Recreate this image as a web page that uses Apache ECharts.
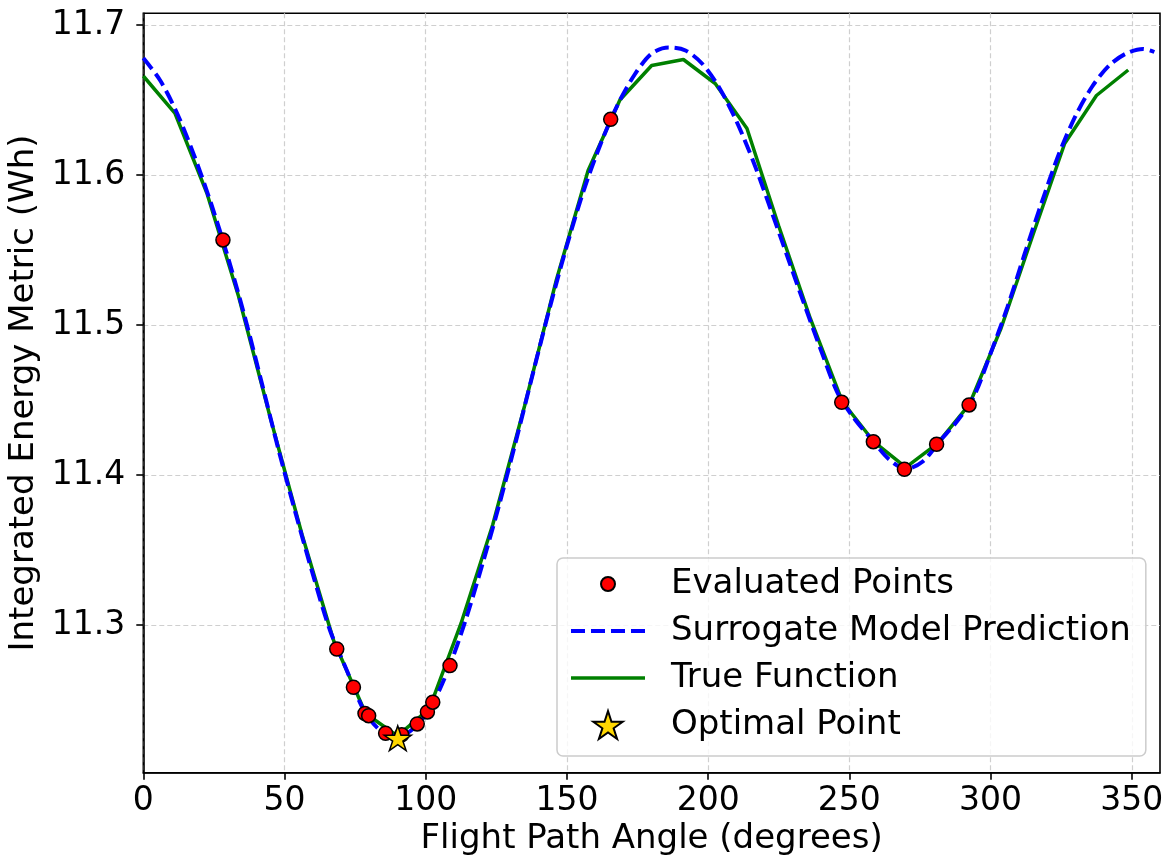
<!DOCTYPE html>
<html>
<head>
<meta charset="utf-8">
<script src="https://cdn.jsdelivr.net/npm/echarts@6/dist/echarts.min.js"></script>
<style>html,body{margin:0;padding:0;background:#fff;}#chart{width:1171px;height:867px;}</style>
</head>
<body>
<div id="chart"></div>
<script>
// ---- data ----
const trueX = [0, 11.25, 22.5, 33.75, 45, 56.25, 67.5, 78.75, 90, 101.25, 112.5, 123.75, 135, 146.25, 157.5, 168.75,
  180, 191.25, 202.5, 213.75, 225, 236.25, 247.5, 258.75, 270, 281.25, 292.5, 303.75, 315, 326.25, 337.5, 348.75];
const trueY = [11.666, 11.641, 11.588, 11.519, 11.438, 11.360, 11.289, 11.241, 11.226, 11.244, 11.301, 11.367, 11.446, 11.530, 11.603, 11.650,
  11.673, 11.677, 11.661, 11.631, 11.566, 11.504, 11.449, 11.422, 11.405, 11.421, 11.447, 11.498, 11.560, 11.621, 11.653, 11.670];

const surX = [0, 6, 12, 18, 24, 30, 36, 42, 48, 54, 60, 66, 72, 78, 84, 90, 96, 102, 108, 114, 120, 126, 132, 138, 144, 150,
  156, 162, 168, 174, 180, 186, 192, 198, 204, 210, 216, 222, 228, 234, 240, 246, 252, 258, 264, 270, 276, 282, 288, 294,
  300, 306, 312, 318, 324, 330, 336, 342, 348, 354, 358];
const surY = [11.678, 11.663, 11.641, 11.613, 11.581, 11.545, 11.505, 11.461, 11.416, 11.374, 11.334, 11.297, 11.270, 11.2435, 11.2295,
  11.2255, 11.2315, 11.246, 11.2705, 11.3025, 11.340, 11.380, 11.423, 11.468, 11.512, 11.553, 11.590, 11.621, 11.647, 11.667,
  11.681, 11.685, 11.683, 11.674, 11.658, 11.636, 11.609, 11.578, 11.546, 11.514, 11.483, 11.454, 11.437, 11.4235, 11.4105, 11.404,
  11.409, 11.4225, 11.4355, 11.452, 11.481, 11.512, 11.547, 11.581, 11.613, 11.639, 11.659, 11.673, 11.681, 11.684, 11.682];

const evalX = [28.2, 68.5, 74.4, 78.5, 79.8, 85.8, 91.5, 97.0, 100.6, 102.5, 108.6, 165.5, 247.3, 258.5, 269.5, 280.9, 292.4];
const evalY = [11.5567, 11.284, 11.2585, 11.241, 11.2395, 11.2278, 11.2268, 11.234, 11.242, 11.2485, 11.2729, 11.6371, 11.4485, 11.4222, 11.4038, 11.4205, 11.4467];

const optX = [90.1];
const optY = [11.2245];

const xTicks = [0, 50, 100, 150, 200, 250, 300, 350];
const yTicks = [11.3, 11.4, 11.5, 11.6, 11.7];

const names = ['Evaluated Points', 'Surrogate Model Prediction', 'True Function', 'Optimal Point'];

// ---- styles ----
function starPath() {
  const pts = [];
  for (let i = 0; i < 10; i++) {
    const r = i % 2 === 0 ? 100 : 38.2;
    const a = Math.PI / 2 + i * Math.PI / 5;
    pts.push((r * Math.cos(a)).toFixed(2) + ' ' + (-r * Math.sin(a)).toFixed(2));
  }
  return 'path://M' + pts.join(' L') + ' Z';
}
const STAR = starPath();
const LEG_CIRCLE = 'path://M0 0 M28 28 M21 14 A7 7 0 1 1 7 14 A7 7 0 1 1 21 14 Z';
const FONT = 'DejaVu Sans';
const BLUE_DASH = [14, 6];

const zip = (a, b) => a.map((v, i) => [v, b[i]]);

const chart = echarts.init(document.getElementById('chart'), null, {renderer: 'canvas'});
chart.setOption({
  animation: false,
  backgroundColor: '#ffffff',
  textStyle: {fontFamily: FONT},
  grid: {left: 143.3, right: 11, top: 13.3, bottom: 94.3, show: true, borderColor: '#000', borderWidth: 1.6,
         backgroundColor: 'transparent', containLabel: false, outerBoundsMode: 'none'},
  xAxis: {
    type: 'value', min: 0, max: 360, interval: 50,
    name: 'Flight Path Angle (degrees)', nameLocation: 'middle', nameGap: 47,
    nameTextStyle: {fontSize: 34, color: '#000', fontFamily: FONT},
    axisLine: {show: true, onZero: false, lineStyle: {color: '#000', width: 1.6}},
    axisTick: {show: true, inside: false, length: 7, lineStyle: {color: '#000', width: 1.6}, customValues: xTicks},
    axisLabel: {fontSize: 33, color: '#000', fontFamily: FONT, margin: 12, customValues: xTicks,
                formatter: v => xTicks.indexOf(v) >= 0 ? String(v) : ''},
    splitLine: {show: true, lineStyle: {color: '#cfcfcf', width: 1.2, type: [5, 3]}}
  },
  yAxis: {
    type: 'value', min: 11.2015, max: 11.7078, splitNumber: 5,
    name: 'Integrated Energy Metric (Wh)', nameLocation: 'middle', nameGap: 102, nameRotate: 90,
    nameTextStyle: {fontSize: 34, color: '#000', fontFamily: FONT},
    axisLine: {show: true, onZero: false, lineStyle: {color: '#000', width: 1.6}},
    axisTick: {show: true, inside: false, length: 7, lineStyle: {color: '#000', width: 1.6}, customValues: yTicks},
    axisLabel: {fontSize: 33, color: '#000', fontFamily: FONT, margin: 18, customValues: yTicks,
                formatter: v => yTicks.some(t => Math.abs(t - v) < 1e-6) ? v.toFixed(1) : ''},
    splitLine: {show: true, lineStyle: {color: '#cfcfcf', width: 1.2, type: [5, 3]}}
  },
  legend: {
    orient: 'vertical', left: 557, top: 558,
    padding: [8, 15, 13, 12],
    itemWidth: 74, itemHeight: 28, itemGap: 11,
    backgroundColor: 'rgba(255,255,255,0.8)', borderColor: '#cccccc', borderWidth: 1.5, borderRadius: 6,
    textStyle: {fontSize: 34, color: '#000', fontFamily: FONT, lineHeight: 36, padding: [0, 0, 0, 21]},
    data: [
      {name: names[0], icon: LEG_CIRCLE},
      {name: names[1], itemStyle: {opacity: 0, color: 'transparent', borderWidth: 0},
       lineStyle: {color: '#0000ff', width: 4, type: BLUE_DASH}},
      {name: names[2], itemStyle: {opacity: 0, color: 'transparent', borderWidth: 0},
       lineStyle: {color: '#008000', width: 3.5, type: 'solid'}},
      {name: names[3], icon: STAR}
    ]
  },
  series: [
    {
      name: names[2], type: 'line', data: zip(trueX, trueY), symbol: 'none', showSymbol: false, z: 2,
      lineStyle: {color: '#008000', width: 3.5}, itemStyle: {color: '#008000'}
    },
    {
      name: names[1], type: 'line', data: zip(surX, surY), symbol: 'none', showSymbol: false, z: 3,
      smooth: 0.3,
      lineStyle: {color: '#0000ff', width: 4, type: BLUE_DASH}, itemStyle: {color: '#0000ff'}
    },
    {
      name: names[0], type: 'scatter', data: zip(evalX, evalY), symbol: 'circle', symbolSize: 14, z: 4,
      itemStyle: {color: '#ff0000', borderColor: '#000', borderWidth: 1.5, opacity: 1}
    },
    {
      name: names[3], type: 'scatter', data: zip(optX, optY), symbol: STAR, symbolSize: [27, 26], symbolKeepAspect: true, z: 5,
      itemStyle: {color: '#ffd700', borderColor: '#000', borderWidth: 1.5, opacity: 1}
    }
  ]
});
</script>
</body>
</html>
